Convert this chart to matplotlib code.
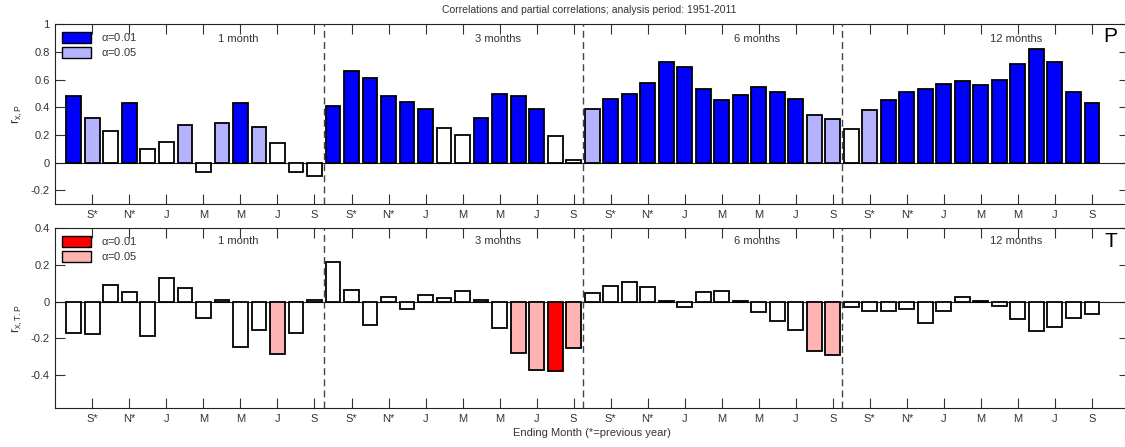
import numpy as np
import matplotlib
matplotlib.use('Agg')
import matplotlib.pyplot as plt
from matplotlib.patches import Patch

plt.rcParams['font.family'] = ['Liberation Sans', 'DejaVu Sans']
plt.rcParams['mathtext.fontset'] = 'custom'
plt.rcParams['mathtext.rm'] = 'Liberation Sans'
plt.rcParams['mathtext.it'] = 'Liberation Sans'

# 4 windows (1, 3, 6, 12 months) x 14 ending months (Aug* .. Sep)
windows = ['1 month', '3 months', '6 months', '12 months']
tick_labels = ['S*', 'N*', 'J', 'M', 'M', 'J', 'S']

r_p = [0.48, 0.32, 0.23, 0.43, 0.10, 0.15, 0.27, -0.065, 0.29, 0.43, 0.26, 0.14, -0.07, -0.10,
       0.41, 0.66, 0.61, 0.48, 0.44, 0.39, 0.25, 0.20, 0.32, 0.50, 0.48, 0.385, 0.19, 0.022,
       0.385, 0.46, 0.50, 0.575, 0.73, 0.695, 0.53, 0.455, 0.49, 0.545, 0.51, 0.46, 0.345, 0.315,
       0.24, 0.38, 0.45, 0.51, 0.535, 0.57, 0.59, 0.565, 0.60, 0.715, 0.82, 0.725, 0.51, 0.43]
sig_p = [2, 1, 0, 2, 0, 0, 1, 0, 1, 2, 1, 0, 0, 0,
         2, 2, 2, 2, 2, 2, 0, 0, 2, 2, 2, 2, 0, 0,
         1, 2, 2, 2, 2, 2, 2, 2, 2, 2, 2, 2, 1, 1,
         0, 1, 2, 2, 2, 2, 2, 2, 2, 2, 2, 2, 2, 2]

r_tp = [-0.168, -0.174, 0.093, 0.051, -0.188, 0.132, 0.073, -0.088, 0.012, -0.245, -0.155, -0.285, -0.168, 0.007,
        0.214, 0.064, -0.126, 0.024, -0.042, 0.038, 0.018, 0.06, 0.01, -0.144, -0.279, -0.371, -0.378, -0.25,
        0.049, 0.088, 0.108, 0.082, 0.002, -0.029, 0.055, 0.06, 0.006, -0.058, -0.106, -0.153, -0.27, -0.289,
        -0.029, -0.049, -0.053, -0.04, -0.117, -0.053, 0.026, 0.002, -0.024, -0.095, -0.161, -0.135, -0.091, -0.068]
sig_tp = [0, 0, 0, 0, 0, 0, 0, 0, 0, 0, 0, 1, 0, 0,
          0, 0, 0, 0, 0, 0, 0, 0, 0, 0, 1, 1, 2, 1,
          0, 0, 0, 0, 0, 0, 0, 0, 0, 0, 0, 0, 1, 1,
          0, 0, 0, 0, 0, 0, 0, 0, 0, 0, 0, 0, 0, 0]

x = np.arange(1, len(r_p) + 1)
blues = ['white', '#b3b3ff', '#0000ff']
reds = ['white', '#ffb3b3', '#ff0000']

fig = plt.figure(figsize=(11.25, 4.47), dpi=100)
ax1 = fig.add_axes([0.0492, 0.5436, 0.9543, 0.4016])
ax2 = fig.add_axes([0.0492, 0.0866, 0.9543, 0.4027])

tc = '#333333'


def draw_panel(ax, vals, sig, cols, ylim, yticks, ylab, letter, ytxt, lettery):
    ax.bar(x, vals, width=0.8, color=[cols[s] for s in sig], edgecolor='black',
           linewidth=1.3, zorder=3)
    ax.axhline(0, color='#222222', lw=0.8, zorder=2)
    for b in [14.5, 28.5, 42.5]:
        ax.axvline(b, color='#444444', lw=1.0, ls=(0, (5, 3)), zorder=4)
    ax.set_xlim(0, 58)
    ax.set_ylim(*ylim)
    ax.set_yticks(yticks)
    ax.set_yticklabels(['%g' % t for t in yticks])
    ax.set_xticks(np.arange(2, 57, 2))
    ax.set_xticklabels(tick_labels * 4)
    ax.tick_params(direction='in', length=7, width=0.8, top=True, right=True,
                   labelsize=8, labelcolor=tc, color='#333333', pad=4)
    for s in ax.spines.values():
        s.set_linewidth(0.8)
        s.set_color('#222222')
    ax.set_ylabel(ylab, fontsize=9, color=tc, labelpad=4)
    for i, w in enumerate(windows):
        ax.text(14 * i + 9.9, ytxt, w, ha='center', va='center', fontsize=8, color=tc)
    ax.text(57.0, lettery, letter, ha='center', va='center', fontsize=15, color='black')
    handles = [Patch(facecolor=cols[2], edgecolor='black', lw=1.0, label=r'$\alpha$=0.01'),
               Patch(facecolor=cols[1], edgecolor='black', lw=1.0, label=r'$\alpha$=0.05')]
    leg = ax.legend(handles=handles, loc='upper left', frameon=False, fontsize=8,
                    handlelength=2.6, handleheight=1.1, labelspacing=0.3,
                    borderaxespad=0.2, handletextpad=0.9)
    for t in leg.get_texts():
        t.set_color(tc)


draw_panel(ax1, r_p, sig_p, blues, (-0.3, 1.0), [-0.2, 0, 0.2, 0.4, 0.6, 0.8, 1],
           r'$\mathregular{r_{x,P}}$', 'P', 0.893, 0.91)
draw_panel(ax2, r_tp, sig_tp, reds, (-0.58, 0.4), [-0.4, -0.2, 0, 0.2, 0.4],
           r'$\mathregular{r_{x,T.P}}$', 'T', 0.329, 0.327)

fig.text(0.524, 0.978, 'Correlations and partial correlations; analysis period: 1951-2011',
         ha='center', va='center', fontsize=7.5, color=tc)
ax2.set_xlabel('Ending Month (*=previous year)', fontsize=8, color=tc, labelpad=3)

fig.savefig('out.png', dpi=100)
